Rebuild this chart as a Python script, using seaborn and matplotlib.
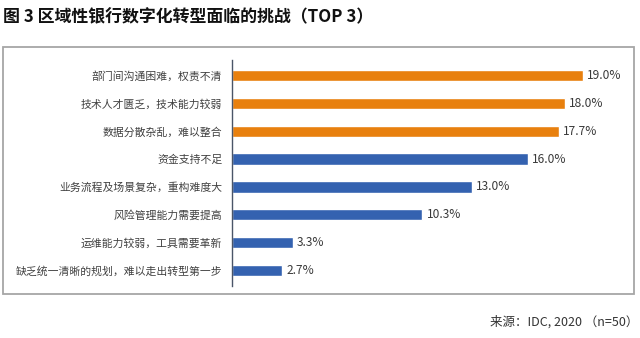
import matplotlib
matplotlib.use("Agg")
import matplotlib.pyplot as plt
from matplotlib.patches import Rectangle
import seaborn as sns
import pandas as pd

categories = [
    "部门间沟通困难，权责不清",
    "技术人才匮乏，技术能力较弱",
    "数据分散杂乱，难以整合",
    "资金支持不足",
    "业务流程及场景复杂，重构难度大",
    "风险管理能力需要提高",
    "运维能力较弱，工具需要革新",
    "缺乏统一清晰的规划，难以走出转型第一步",
]
values = [19.0, 18.0, 17.7, 16.0, 13.0, 10.3, 3.3, 2.7]
groups = ["TOP 3"] * 3 + ["其他"] * 5
value_labels = [f"{v:.1f}%" for v in values]

title = "图 3 区域性银行数字化转型面临的挑战（TOP 3）"
source = "来源：IDC, 2020 （n=50）"

sns.set_theme(style="white")
plt.rcParams["font.family"] = ["Noto Sans CJK SC", "DejaVu Sans"]

df = pd.DataFrame({"category": categories, "value": values, "group": groups})

fig = plt.figure(figsize=(6.4, 3.38), dpi=100)
W, H = 640, 338
# axes box in pixel units: left, top, right, bottom
l, t, r, b = 232, 60, 620, 286
ax = fig.add_axes([l / W, 1 - b / H, (r - l) / W, (b - t) / H])

sns.barplot(
    data=df, x="value", y="category", hue="group",
    palette={"TOP 3": "#E8800E", "其他": "#3462B0"}, saturation=1,
    dodge=False, width=0.4, legend=False, ax=ax, orient="h",
)

ax.set_xlim(0, 21)
ax.set_ylim(7.55, -0.55)
ax.set_xlabel("")
ax.set_ylabel("")
ax.set_xticks([])
for s in ["top", "right", "bottom"]:
    ax.spines[s].set_visible(False)
ax.spines["left"].set_color("#4A5568")
ax.spines["left"].set_linewidth(1.0)
ax.tick_params(axis="y", length=0, pad=7, labelsize=7.8, labelcolor="#404040")

for i, (v, lab) in enumerate(zip(values, value_labels)):
    ax.annotate(lab, xy=(v, i), xytext=(3, 0), textcoords="offset points",
                va="center", ha="left", fontsize=8.6, color="#3A3A3A")

# outer frame around the chart area
fig.patches.append(Rectangle((3 / W, 1 - 294 / H), 631 / W, 247 / H,
                             transform=fig.transFigure, fill=False,
                             edgecolor="#A6A6A6", linewidth=1.3))

fig.text(3 / W, 1 - 17 / H, title, ha="left", va="center",
         fontsize=12.2, fontweight="bold", color="#111111")
fig.text(638 / W, 1 - 322 / H, source, ha="right", va="center",
         fontsize=9, color="#333333")

fig.savefig("out.png", dpi=100)
